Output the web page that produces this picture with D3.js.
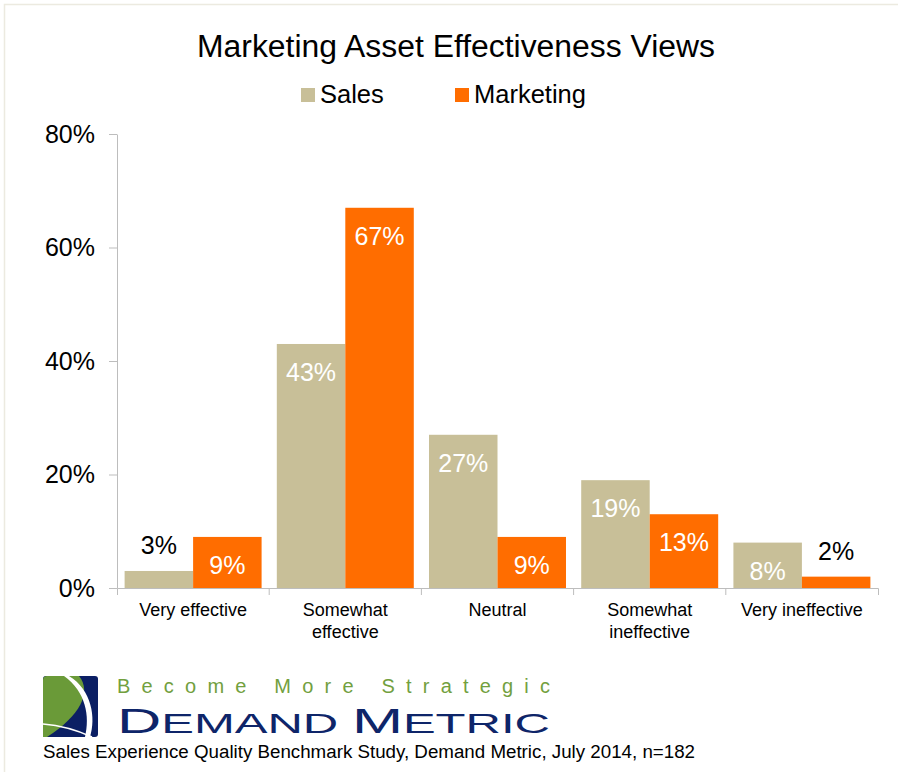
<!DOCTYPE html>
<html>
<head>
<meta charset="utf-8">
<script src="https://cdn.jsdelivr.net/npm/d3@7"></script>
<style>
  html, body { margin: 0; padding: 0; background: #fff; }
  svg { display: block; font-family: "Liberation Sans", Arial, sans-serif; }
</style>
</head>
<body>
<svg id="chart" width="898" height="772"></svg>
<script>
// ---- data ----
const categories = ["Very effective", "Somewhat effective", "Neutral", "Somewhat ineffective", "Very ineffective"];
const seriesNames = ["Sales", "Marketing"];
const salesValues = [0.03, 0.43, 0.27, 0.19, 0.08];
const marketingValues = [0.09, 0.67, 0.09, 0.13, 0.02];
const yTicks = [0, 0.2, 0.4, 0.6, 0.8];
const titleText = "Marketing Asset Effectiveness Views";
const footerText = "Sales Experience Quality Benchmark Study, Demand Metric, July 2014, n=182";

const colors = { Sales: "#C8BF98", Marketing: "#FF6D00" };
const svg = d3.select("#chart");

// light frame
svg.append("path").attr("d", "M4.5,772V4.5H898").attr("fill", "none")
  .attr("stroke", "#ECEAE0").attr("stroke-width", 1.5);

// scales
const x = d3.scaleBand().domain(categories).range([117, 878]).paddingInner(0.1).paddingOuter(0.05);
const xs = d3.scaleBand().domain(seriesNames).range([0, x.bandwidth()]);
const y = d3.scaleLinear().domain([0, 0.8]).range([588, 134]);

// title
svg.append("text").attr("x", 456).attr("y", 57).attr("text-anchor", "middle")
  .attr("font-size", 31).attr("fill", "#000")
  .attr("textLength", 518).attr("lengthAdjust", "spacingAndGlyphs").text(titleText);

// legend
const legendItems = [{ name: "Sales", x: 301 }, { name: "Marketing", x: 455 }];
const lg = svg.append("g");
legendItems.forEach(d => {
  lg.append("rect").attr("x", d.x).attr("y", 88).attr("width", 14).attr("height", 14).attr("fill", colors[d.name]);
  lg.append("text").attr("x", d.x + 19).attr("y", 103).attr("font-size", 25.5).attr("fill", "#000").text(d.name);
});

// y axis
const yAxis = svg.append("g").attr("transform", "translate(117,0)")
  .call(d3.axisLeft(y).tickValues(yTicks).tickFormat(d3.format(".0%")).tickSize(8).tickSizeOuter(0).tickPadding(14));
yAxis.select(".domain").attr("stroke", "#BDBDBD");
yAxis.selectAll(".tick line").attr("stroke", "#BDBDBD");
yAxis.selectAll(".tick text").attr("font-size", 25).attr("fill", "#000")
  .attr("font-family", "'Liberation Sans', Arial, sans-serif");

// bars
const rows = categories.map((c, i) => ({ cat: c, vals: [
  { s: "Sales", v: salesValues[i] }, { s: "Marketing", v: marketingValues[i] }] }));
const groups = svg.append("g").selectAll("g").data(rows).join("g")
  .attr("transform", d => `translate(${x(d.cat)},0)`);
groups.selectAll("rect").data(d => d.vals).join("rect")
  .attr("x", d => xs(d.s)).attr("width", xs.bandwidth())
  .attr("y", d => y(d.v)).attr("height", d => y(0) - y(d.v))
  .attr("fill", d => colors[d.s]);
groups.selectAll("text").data(d => d.vals).join("text")
  .attr("x", d => xs(d.s) + xs.bandwidth() / 2)
  .attr("y", d => (y(0) - y(d.v) > 30) ? y(d.v) + 37 : y(d.v) - 17)
  .attr("text-anchor", "middle").attr("font-size", 25)
  .attr("fill", d => (y(0) - y(d.v) > 30) ? "#fff" : "#000")
  .text(d => d3.format(".0%")(d.v));

// x axis
const xAxis = svg.append("g").attr("transform", "translate(0,588)")
  .call(d3.axisBottom(x).tickSize(0).tickSizeOuter(7).tickFormat(""));
xAxis.select(".domain").attr("stroke", "#BDBDBD");
xAxis.selectAll(".tick").remove();
for (let i = 1; i < categories.length; i++) {
  const bx = x.range()[0] + i * x.step();
  xAxis.append("line").attr("x1", bx).attr("x2", bx).attr("y1", 0).attr("y2", 7).attr("stroke", "#BDBDBD");
}
// x labels with wrapping
categories.forEach(c => {
  const cx = x(c) + x.bandwidth() / 2;
  const t = svg.append("text").attr("x", cx).attr("y", 616).attr("text-anchor", "middle")
    .attr("font-size", 18).attr("fill", "#000").text(c);
  if (t.node().getComputedTextLength() > x.bandwidth()) {
    const words = c.split(" ");
    t.text(null);
    t.append("tspan").attr("x", cx).attr("dy", 0).text(words.slice(0, words.length - 1).join(" "));
    t.append("tspan").attr("x", cx).attr("dy", 22).text(words[words.length - 1]);
  }
});

// logo
const logo = svg.append("g");
logo.append("rect").attr("x", 43).attr("y", 676).attr("width", 55).attr("height", 61).attr("rx", 3).attr("fill", "#0B1F64");
logo.append("path").attr("d", "M43,680 Q43,676 47,676 L79,676 C92,692 80,716 47,737 L43,737 Z").attr("fill", "#6A9A38");
logo.append("path").attr("d", "M64,676 L69,676 C92,690 96,718 90,737 L85,737 C90,716 86,692 64,676 Z").attr("fill", "#fff");
logo.append("path").attr("d", "M43,724 Q68,726 92,737").attr("fill", "none").attr("stroke", "#fff").attr("stroke-width", 1.6);

svg.append("text").attr("x", 117).attr("y", 693).attr("font-size", 20).attr("fill", "#72A03E")
  .attr("textLength", 433).attr("lengthAdjust", "spacing").text("Become More Strategic");

const dm = svg.append("text").attr("x", 117).attr("y", 733).attr("fill", "#0E2569")
  .attr("textLength", 433).attr("lengthAdjust", "spacingAndGlyphs");
dm.append("tspan").attr("font-size", 35).text("D");
dm.append("tspan").attr("font-size", 28).text("EMAND ");
dm.append("tspan").attr("font-size", 35).text("M");
dm.append("tspan").attr("font-size", 28).text("ETRIC");

svg.append("text").attr("x", 43).attr("y", 758).attr("font-size", 18).attr("fill", "#000")
  .attr("textLength", 652).attr("lengthAdjust", "spacingAndGlyphs").text(footerText);
</script>
</body>
</html>
